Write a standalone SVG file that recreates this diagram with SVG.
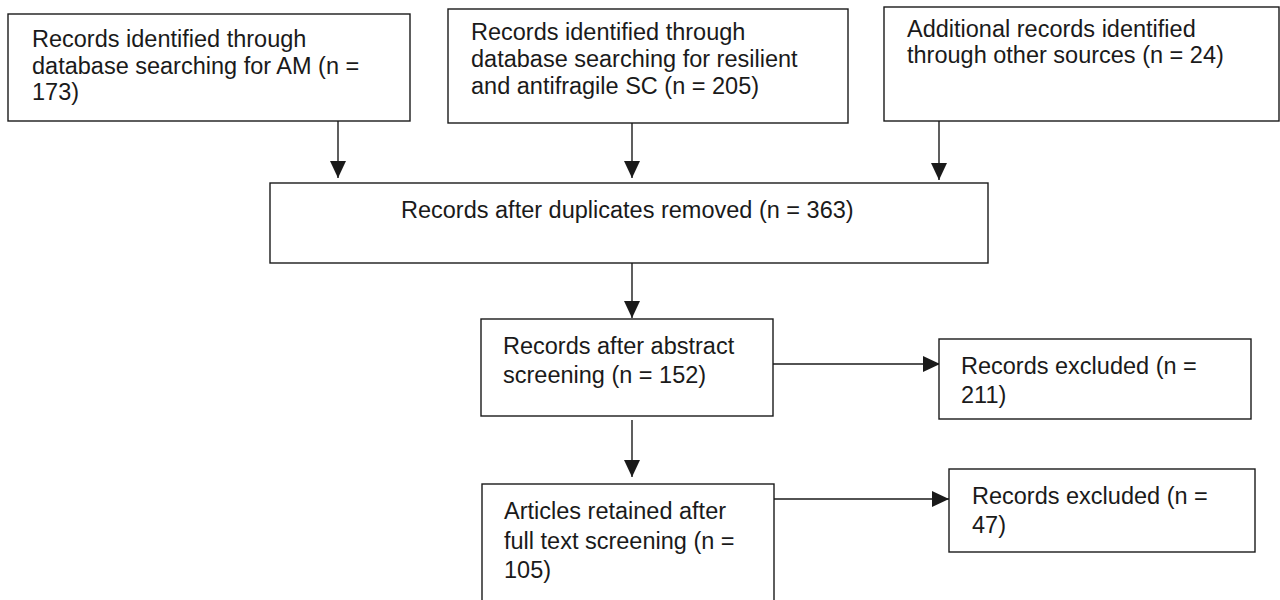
<svg xmlns="http://www.w3.org/2000/svg" width="1280" height="600" viewBox="0 0 1280 600">
  <defs>
    <style>
      .box { fill: #ffffff; stroke: #1a1a1a; stroke-width: 1.4; }
      .lbl { font-family: "Liberation Sans", Arial, sans-serif; font-size: 23.5px; fill: #1a1a1a; }
      .conn { stroke: #1a1a1a; stroke-width: 1.4; fill: none; marker-end: url(#arrow); }
    </style>
    <marker id="arrow" markerUnits="userSpaceOnUse" markerWidth="17" markerHeight="16" refX="17" refY="8" orient="auto">
      <path d="M0,0 L17,8 L0,16 Z" fill="#1a1a1a"/>
    </marker>
  </defs>
  <rect width="1280" height="600" fill="#ffffff"/>

  <g id="connectors">
    <line class="conn" x1="338" y1="121" x2="338" y2="178"/>
    <line class="conn" x1="632" y1="123" x2="632" y2="178"/>
    <line class="conn" x1="939" y1="121" x2="939" y2="180"/>
    <line class="conn" x1="632" y1="263" x2="632" y2="318"/>
    <line class="conn" x1="773" y1="364" x2="940" y2="364"/>
    <line class="conn" x1="632" y1="420" x2="632" y2="477"/>
    <line class="conn" x1="774" y1="499" x2="949" y2="499"/>
  </g>

  <g id="node-am">
    <rect class="box" x="8" y="14" width="402" height="107"/>
    <text class="lbl" x="32" y="47">Records identified through</text>
    <text class="lbl" x="32" y="74">database searching for AM (n =</text>
    <text class="lbl" x="32" y="100">173)</text>
  </g>

  <g id="node-sc">
    <rect class="box" x="448" y="9" width="400" height="114"/>
    <text class="lbl" x="471" y="40">Records identified through</text>
    <text class="lbl" x="471" y="67">database searching for resilient</text>
    <text class="lbl" x="471" y="93.5">and antifragile SC (n = 205)</text>
  </g>

  <g id="node-other">
    <rect class="box" x="884" y="7" width="395" height="114"/>
    <text class="lbl" x="907" y="37">Additional records identified</text>
    <text class="lbl" x="907" y="63">through other sources (n = 24)</text>
  </g>

  <g id="node-dedup">
    <rect class="box" x="270" y="183" width="718" height="80"/>
    <text class="lbl" x="401" y="218">Records after duplicates removed (n = 363)</text>
  </g>

  <g id="node-abstract">
    <rect class="box" x="481" y="319" width="292" height="97"/>
    <text class="lbl" x="503" y="354">Records after abstract</text>
    <text class="lbl" x="503" y="383">screening (n = 152)</text>
  </g>

  <g id="node-excluded-211">
    <rect class="box" x="939" y="339" width="312" height="80"/>
    <text class="lbl" x="961" y="374">Records excluded (n =</text>
    <text class="lbl" x="961" y="403">211)</text>
  </g>

  <g id="node-fulltext">
    <rect class="box" x="482" y="484" width="292" height="130"/>
    <text class="lbl" x="504" y="519">Articles retained after</text>
    <text class="lbl" x="504" y="548.5">full text screening (n =</text>
    <text class="lbl" x="504" y="578">105)</text>
  </g>

  <g id="node-excluded-47">
    <rect class="box" x="949" y="469" width="306" height="83"/>
    <text class="lbl" x="972" y="504">Records excluded (n =</text>
    <text class="lbl" x="972" y="533">47)</text>
  </g>
</svg>
